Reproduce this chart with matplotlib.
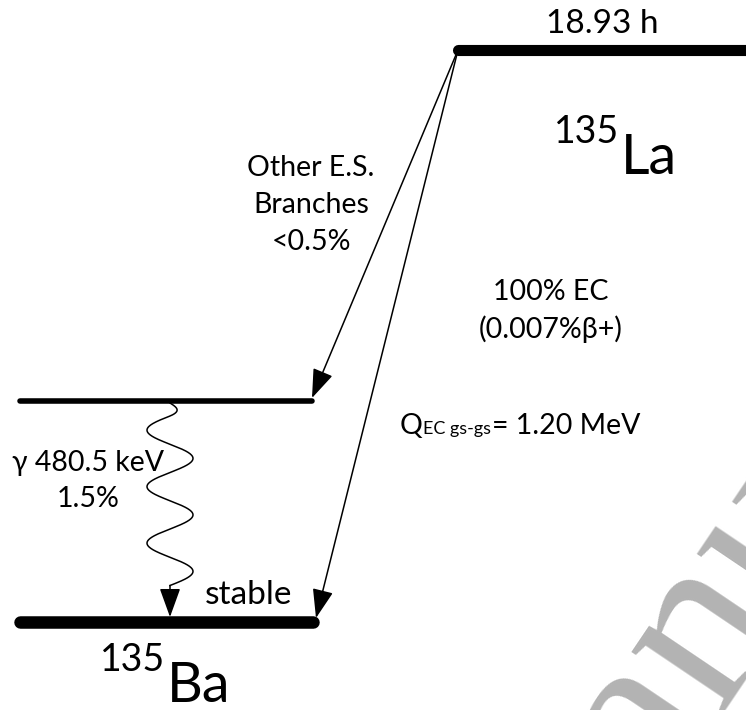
import numpy as np
import matplotlib.pyplot as plt
from matplotlib.patches import FancyArrowPatch

plt.rcParams['font.family'] = ['Lato', 'DejaVu Sans']

# Energy levels: (x start, x end, y, line width)
level_x0 = [458, 20, 20]
level_x1 = [760, 312, 313]
level_y = [50, 401, 622]
level_lw = [8, 4, 9]

# Decay transitions from the parent level
branch_start = (458, 50)
branch_ends = [(312, 398), (316, 618)]

# Gamma transition
gamma_x = 170
gamma_y0, gamma_y1 = 403, 620
gamma_amp = 23
gamma_period = 56.5

fig = plt.figure(figsize=(7.46, 7.10), dpi=100)
ax = fig.add_axes([0, 0, 1, 1])
ax.set_xlim(0, 746)
ax.set_ylim(710, 0)
ax.axis('off')

# watermark
wm_angle = 56
wm_pt = (657, 798)
wm_kw = dict(fontsize=173, family=['Liberation Serif', 'DejaVu Serif'], color='#b3b3b3',
             rotation=wm_angle, rotation_mode='anchor', va='baseline', zorder=0)
ax.text(*wm_pt, 'Author M', ha='right', **wm_kw)
ax.text(*wm_pt, 'anuscript', ha='left', **wm_kw)

for x0, x1, y, lw in zip(level_x0, level_x1, level_y, level_lw):
    ax.plot([x0, x1], [y, y], color='black', lw=lw, solid_capstyle='round', zorder=3)

head = '-|>,head_length=18,head_width=6.5'
for end in branch_ends:
    ax.add_patch(FancyArrowPatch(branch_start, end, arrowstyle=head, mutation_scale=1,
                                 lw=1.1, color='black', shrinkA=0, shrinkB=0, zorder=4))

# wavy gamma line, ending back on the centre line
wave_end = gamma_y0 + 13 + 3 * gamma_period
yy = np.linspace(gamma_y0, wave_end, 400)
ramp = np.clip((yy - gamma_y0) / 14, 0, 1)
xx = gamma_x - gamma_amp * ramp * np.sin(2 * np.pi * (yy - (gamma_y0 + 13)) / gamma_period)
ax.plot(xx, yy, color='black', lw=1.1, zorder=4)
ax.add_patch(FancyArrowPatch((gamma_x, wave_end), (gamma_x, gamma_y1 - 3), arrowstyle=head,
                             mutation_scale=1, lw=1.1, color='black', shrinkA=0, shrinkB=0, zorder=4))

txt = dict(color='black', zorder=5)
ax.text(602, 24, '18.93 h', fontsize=24, ha='center', va='center', **txt)
ax.text(621, 174, 'La', fontsize=40, ha='left', va='baseline', **txt)
ax.text(619, 143, '135', fontsize=27, ha='right', va='baseline', **txt)
ax.text(311, 205, 'Other E.S.\nBranches\n<0.5%', fontsize=20.5, ha='center', va='center', linespacing=1.5, **txt)
ax.text(551, 311, '100% EC\n(0.007%β+)', fontsize=20.5, ha='center', va='center', linespacing=1.5, **txt)
ax.text(88, 481, 'γ 480.5 keV\n1.5%', fontsize=20.5, ha='center', va='center', linespacing=1.5, **txt)
ax.text(249, 595, 'stable', fontsize=24, ha='center', va='center', **txt)
ax.text(167, 702, 'Ba', fontsize=40, ha='left', va='baseline', **txt)
ax.text(165, 671, '135', fontsize=27, ha='right', va='baseline', **txt)

# Q value with subscript, pieces laid end to end
renderer = fig.canvas.get_renderer()
x = 400
for s, fs in [('Q', 20.5), ('EC gs-gs', 13), ('= 1.20 MeV', 20.5)]:
    t = ax.text(x, 434, s, fontsize=fs, ha='left', va='baseline', **txt)
    bb = t.get_window_extent(renderer).transformed(ax.transData.inverted())
    x = max(bb.x0, bb.x1) + 0.5

fig.savefig('out.png', dpi=100)
